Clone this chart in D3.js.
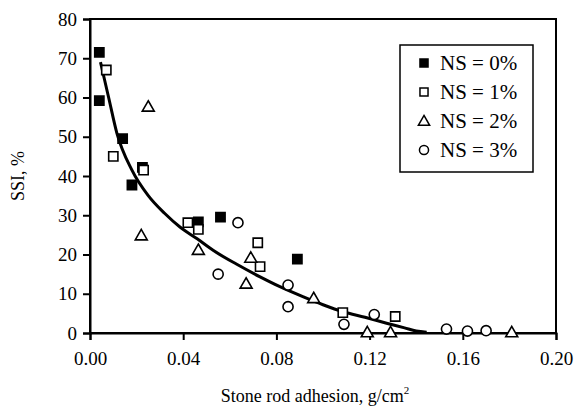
<!DOCTYPE html>
<html>
<head>
<meta charset="utf-8">
<script src="https://cdn.jsdelivr.net/npm/d3@7"></script>
<style>
  html, body { margin: 0; padding: 0; background: #fff; }
  svg { display: block; }
  text { font-family: "Liberation Serif", "Times New Roman", serif; fill: #000; }
</style>
</head>
<body>
<svg id="chart" width="574" height="412"></svg>
<script>
// ---- data ----
const seriesNames = ["NS = 0%", "NS = 1%", "NS = 2%", "NS = 3%"];
const ns0 = [[0.004, 71.5], [0.004, 59.2], [0.014, 49.5], [0.018, 37.7], [0.0225, 42.2], [0.0465, 28.3], [0.056, 29.5], [0.089, 18.8]];
const ns1 = [[0.007, 67.0], [0.010, 45.0], [0.023, 41.5], [0.042, 28.1], [0.0465, 26.4], [0.072, 23.0], [0.073, 16.9], [0.1085, 5.2], [0.131, 4.2]];
const ns2 = [[0.025, 57.8], [0.022, 25.0], [0.0465, 21.3], [0.069, 19.3], [0.067, 12.7], [0.096, 9.0], [0.119, 0.3], [0.129, 0.3], [0.181, 0.3]];
const ns3 = [[0.0635, 28.1], [0.055, 15.0], [0.085, 12.2], [0.085, 6.7], [0.109, 2.2], [0.122, 4.7], [0.153, 1.0], [0.162, 0.5], [0.170, 0.6]];
const trendX = [0.0045, 0.008, 0.0115, 0.018, 0.025, 0.032, 0.0386, 0.046, 0.053, 0.063, 0.073, 0.0815, 0.0916, 0.100, 0.1087, 0.118, 0.1273, 0.135, 0.140, 0.1445];
const trendY = [69.0, 60.0, 51.0, 41.5, 35.0, 30.5, 27.0, 24.0, 21.0, 17.5, 14.3, 11.8, 9.2, 7.2, 5.4, 4.0, 2.5, 1.3, 0.5, 0.2];
const xTicks = [0.00, 0.04, 0.08, 0.12, 0.16, 0.20];
const yTicks = [0, 10, 20, 30, 40, 50, 60, 70, 80];

// ---- layout ----
const svg = d3.select("#chart");
const L = 90, R = 556, T = 19, B = 333;
const x = d3.scaleLinear().domain([0, 0.20]).range([L, R]);
const y = d3.scaleLinear().domain([0, 80]).range([B, T]);

// frame
svg.append("rect").attr("x", L).attr("y", T).attr("width", R - L).attr("height", B - T)
  .attr("fill", "none").attr("stroke", "#000").attr("stroke-width", 2);

// axes
const xAxis = svg.append("g").attr("transform", `translate(0,${B})`)
  .call(d3.axisBottom(x).tickValues(xTicks).tickFormat(d3.format(".2f")).tickSize(7).tickPadding(12));
const yAxis = svg.append("g").attr("transform", `translate(${L},0)`)
  .call(d3.axisLeft(y).tickValues(yTicks).tickFormat(d3.format("d")).tickSize(7).tickPadding(6));
[xAxis, yAxis].forEach(g => {
  g.select(".domain").attr("stroke", "#000").attr("stroke-width", 2);
  g.selectAll(".tick line").attr("stroke", "#000").attr("stroke-width", 2);
  g.selectAll(".tick text").style("font-family", '"Liberation Serif", serif').style("font-size", "19px").attr("fill", "#000");
});

// axis titles
const xt = svg.append("text").attr("x", (L + R) / 2 - 8).attr("y", 402).attr("text-anchor", "middle")
  .style("font-size", "18px");
xt.append("tspan").text("Stone rod adhesion, g/cm");
xt.append("tspan").text("2").attr("dy", -8).style("font-size", "11px");

svg.append("text").attr("transform", `translate(24,${(T + B) / 2}) rotate(-90)`)
  .attr("text-anchor", "middle").style("font-size", "18px").text("SSI, %");

// trend line
const trend = trendX.map((v, i) => [v, trendY[i]]);
svg.append("path").datum(trend)
  .attr("fill", "none").attr("stroke", "#000").attr("stroke-width", 3)
  .attr("d", d3.line().x(d => x(d[0])).y(d => y(d[1])).curve(d3.curveMonotoneX));

// markers
const sq = d3.symbol().type(d3.symbolSquare).size(85);
const tri = d3.symbol().type(d3.symbolTriangle).size(62);
const circ = d3.symbol().type(d3.symbolCircle).size(80);
const styles = [
  { data: ns0, sym: sq, fill: "#000" },
  { data: ns1, sym: sq, fill: "#fff" },
  { data: ns2, sym: tri, fill: "#fff" },
  { data: ns3, sym: circ, fill: "#fff" }
];
function drawSym(g, s, cx, cy) {
  const dy = s.sym === tri ? 1.5 : 0;
  g.append("path").attr("d", s.sym())
    .attr("transform", `translate(${cx},${cy + dy})`)
    .attr("fill", s.fill).attr("stroke", "#000").attr("stroke-width", 1.6);
}
styles.forEach(s => {
  const g = svg.append("g");
  s.data.forEach(d => drawSym(g, s, x(d[0]), y(d[1])));
});

// legend
const lg = svg.append("g");
lg.append("rect").attr("x", 400).attr("y", 45).attr("width", 133).attr("height", 127)
  .attr("fill", "#fff").attr("stroke", "#000").attr("stroke-width", 1.5);
seriesNames.forEach((name, i) => {
  const cy = 63 + i * 29;
  const s = styles[i];
  const lsym = d3.symbol()
    .type(s.sym === sq ? d3.symbolSquare : s.sym === tri ? d3.symbolTriangle : d3.symbolCircle)
    .size(s.sym === tri ? 55 : 65);
  lg.append("path").attr("d", lsym())
    .attr("transform", `translate(424,${cy + (s.sym === tri ? 1 : 0)})`)
    .attr("fill", s.fill).attr("stroke", "#000").attr("stroke-width", 1.5);
  lg.append("text").attr("x", 440).attr("y", cy + 7).style("font-size", "21px").text(name);
});
</script>
</body>
</html>
